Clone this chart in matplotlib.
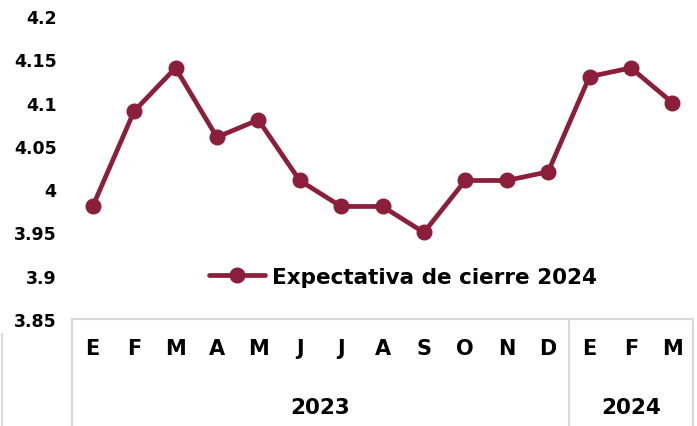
import matplotlib
matplotlib.use("Agg")
import matplotlib.pyplot as plt
from matplotlib.lines import Line2D
import matplotlib.transforms as mtransforms

months = ["E", "F", "M", "A", "M", "J", "J", "A", "S", "O", "N", "D", "E", "F", "M"]
values = [3.98, 4.09, 4.14, 4.06, 4.08, 4.01, 3.98, 3.98, 3.95, 4.01, 4.01, 4.02, 4.13, 4.14, 4.10]
years = ["2023", "2024"]
year_counts = [12, 3]
series_label = "Expectativa de cierre 2024"

LINE = "#8B1E3A"
GRID = "#d9d9d9"

plt.rcParams["font.family"] = ["DejaVu Sans"]
plt.rcParams["font.weight"] = "bold"

fig = plt.figure(figsize=(6.97, 4.27), dpi=100)
ax = fig.add_axes([72 / 697, 107 / 427, 621 / 697, 303 / 427])

x = list(range(len(values)))
ax.plot(x, values, color=LINE, linewidth=3.4, marker="o", markersize=10.5,
        label=series_label, solid_capstyle="round")
ax.set_xlim(-0.5, len(values) - 0.5)
ax.set_ylim(3.85, 4.2)
ax.set_yticks([3.85, 3.9, 3.95, 4.0, 4.05, 4.1, 4.15, 4.2])
ax.set_yticklabels(["3.85", "3.9", "3.95", "4", "4.05", "4.1", "4.15", "4.2"],
                   fontsize=12.5, fontweight="bold")
ax.tick_params(axis="y", length=0, pad=11)
ax.set_xticks(x)
ax.set_xticklabels(months, fontsize=15, fontweight="bold")
ax.tick_params(axis="x", length=0, pad=14)
for s in ["left", "right", "top"]:
    ax.spines[s].set_visible(False)
ax.spines["bottom"].set_color(GRID)
ax.spines["bottom"].set_linewidth(1.5)

# year group labels and separators
trans = mtransforms.blended_transform_factory(ax.transData, fig.transFigure)
start = -0.5
for yr, n in zip(years, year_counts):
    ax.text(start + n / 2, 19 / 427, yr, transform=trans, ha="center", va="center",
            fontsize=15.5, fontweight="bold")
    fig.add_artist(Line2D([start, start], [0, 107 / 427], transform=trans,
                          color=GRID, linewidth=1.5))
    start += n
fig.add_artist(Line2D([start, start], [0, 107 / 427], transform=trans,
                      color=GRID, linewidth=1.5))
fig.add_artist(Line2D([2 / 697, 2 / 697], [0, 92 / 427], transform=fig.transFigure,
                      color=GRID, linewidth=1.5))

ax.legend(loc="center left", bbox_to_anchor=(0.19, 0.14), frameon=False,
          prop={"size": 15.5, "weight": "bold"}, handlelength=2.6,
          handletextpad=0.3)

fig.savefig("out.png", dpi=100)
